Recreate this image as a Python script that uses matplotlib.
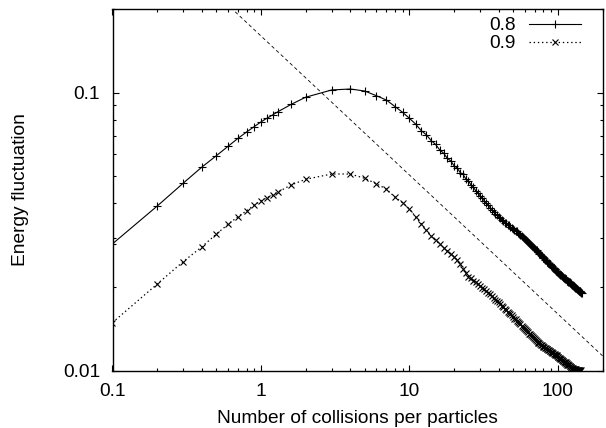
import matplotlib
matplotlib.use("Agg")
import matplotlib.pyplot as plt
from matplotlib.ticker import LogLocator, FixedLocator, FixedFormatter, NullFormatter

# ---------------- data ----------------
x_head = [0.1, 0.2, 0.3, 0.4, 0.5, 0.6, 0.7, 0.8, 0.9, 1.0,
          1.1, 1.2, 1.3, 1.6, 2, 3, 4, 5, 6, 7, 8, 9, 10]

y08_head = [0.0286, 0.0391, 0.0473, 0.0540, 0.0593, 0.0641, 0.0685, 0.0722, 0.0755, 0.0785,
            0.0810, 0.0832, 0.0854, 0.0908, 0.0963, 0.1023, 0.1031, 0.1014, 0.0975, 0.0941,
            0.0891, 0.0850, 0.0809]

y09_head = [0.0149, 0.0205, 0.0247, 0.0279, 0.0310, 0.0336, 0.0358, 0.0376, 0.0394, 0.0409,
            0.0419, 0.0429, 0.0439, 0.0466, 0.0488, 0.0510, 0.0510, 0.0492, 0.0470, 0.0450,
            0.0421, 0.0402, 0.0382]

x08_tail = list(range(11, 146))
y08_tail = [
    0.0772, 0.0731, 0.0706, 0.0673, 0.0652, 0.0623, 0.0606, 0.0581, 0.0568, 0.0546,  # 11-20
    0.0536, 0.0516, 0.0508, 0.0490, 0.0481, 0.0466, 0.0457, 0.0444, 0.0436, 0.0425,  # 21-30
    0.0417, 0.0408, 0.0401, 0.0393, 0.0386, 0.0379, 0.0373, 0.0366, 0.0362, 0.0357,  # 31-40
    0.0353, 0.0348, 0.0346, 0.0341, 0.0339, 0.0335, 0.0333, 0.0329, 0.0327, 0.0324,  # 41-50
    0.0322, 0.0319, 0.0317, 0.0313, 0.0311, 0.0308, 0.0306, 0.0302, 0.0301, 0.0297,  # 51-60
    0.0296, 0.0292, 0.0291, 0.0287, 0.0286, 0.0283, 0.0281, 0.0279, 0.0276, 0.0275,  # 61-70
    0.0271, 0.0271, 0.0267, 0.0267, 0.0263, 0.0263, 0.0260, 0.0259, 0.0257, 0.0254,  # 71-80
    0.0254, 0.0251, 0.0251, 0.0248, 0.0247, 0.0244, 0.0244, 0.0241, 0.0241, 0.0239,  # 81-90
    0.0238, 0.0237, 0.0235, 0.0234, 0.0232, 0.0232, 0.0229, 0.0229, 0.0227, 0.0226,  # 91-100
    0.0225, 0.0223, 0.0223, 0.0221, 0.0221, 0.0219, 0.0219, 0.0217, 0.0217, 0.0216,  # 101-110
    0.0215, 0.0214, 0.0213, 0.0213, 0.0211, 0.0211, 0.0210, 0.0209, 0.0208, 0.0208,  # 111-120
    0.0207, 0.0206, 0.0205, 0.0204, 0.0204, 0.0203, 0.0202, 0.0201, 0.0200, 0.0200,  # 121-130
    0.0199, 0.0198, 0.0198, 0.0197, 0.0196, 0.0195, 0.0195, 0.0194, 0.0194, 0.0193,  # 131-140
    0.0193, 0.0192, 0.0192, 0.0191, 0.0190,                                          # 141-145
]

x09_tail = list(range(11, 144))
y09_tail = [
    0.0358, 0.0338, 0.0320, 0.0305, 0.0294, 0.0286, 0.0277, 0.0270, 0.0263, 0.0257,  # 11-20
    0.0250, 0.0242, 0.0233, 0.0225, 0.0218, 0.0215, 0.0211, 0.0208, 0.0205, 0.0202,  # 21-30
    0.0199, 0.0196, 0.0193, 0.0190, 0.0188, 0.0185, 0.0183, 0.0180, 0.0178, 0.0176,  # 31-40
    0.0174, 0.0171, 0.0169, 0.0167, 0.0165, 0.0163, 0.0161, 0.0160, 0.0158, 0.0156,  # 41-50
    0.0154, 0.0153, 0.0151, 0.0150, 0.0148, 0.0147, 0.0145, 0.0144, 0.0143, 0.0141,  # 51-60
    0.0140, 0.0139, 0.0138, 0.0136, 0.0135, 0.0134, 0.0133, 0.0132, 0.0131, 0.0130,  # 61-70
    0.0129, 0.0128, 0.0127, 0.0126, 0.0126, 0.0125, 0.0124, 0.0124, 0.0123, 0.0122,  # 71-80
    0.0122, 0.0121, 0.0121, 0.0120, 0.0120, 0.0119, 0.0119, 0.0118, 0.0118, 0.0117,  # 81-90
    0.0117, 0.0116, 0.0116, 0.0115, 0.0115, 0.0114, 0.0114, 0.01132, 0.01136, 0.01122,  # 91-100
    0.01124, 0.01110, 0.01115, 0.01101, 0.01106, 0.01094, 0.01097, 0.01083, 0.01088, 0.01077,  # 101-110
    0.01079, 0.01068, 0.01071, 0.01060, 0.01063, 0.01052, 0.01055, 0.01045, 0.01047, 0.01038,  # 111-120
    0.01040, 0.01031, 0.01033, 0.01024, 0.01026, 0.01018, 0.01021, 0.01013, 0.01017, 0.01010,  # 121-130
    0.01014, 0.01007, 0.01011, 0.01005, 0.01009, 0.01003, 0.01007, 0.01002, 0.01005, 0.01001,  # 131-140
    0.01004, 0.01000, 0.01003,                                                              # 141-143
]

labels = ["0.8", "0.9"]
ref_coef = 0.16      # dashed guide line  y = ref_coef * x**ref_exp
ref_exp = -0.5

x_ticks = [0.1, 1, 10, 100]
x_ticklabels = ["0.1", "1", "10", "100"]
y_ticks = [0.01, 0.1]
y_ticklabels = ["0.01", "0.1"]
x_range = (0.1, 200)
y_range = (0.01, 0.2)

x08 = x_head + x08_tail
y08 = y08_head + y08_tail
x09 = x_head + x09_tail
y09 = y09_head + y09_tail

# ---------------- figure ----------------
plt.rcParams['font.family'] = ['Liberation Sans', 'DejaVu Sans']
plt.rcParams['lines.scale_dashes'] = False
FS = 13.8

W, H = 606, 428
fig = plt.figure(figsize=(W / 100, H / 100), dpi=100)
L, R, T, B = 112.5, 602.5, 9, 370.7
ax = fig.add_axes([L / W, 1 - B / H, (R - L) / W, (B - T) / H])

ax.set_xscale('log')
ax.set_yscale('log')

ax.plot(x08, y08, color='black', lw=0.8, ls='-', marker='+', ms=5.5, mew=0.8,
        label=labels[0])
ax.plot(x09, y09, color='black', lw=0.9, ls=(0, (1.0, 2.0)), marker='x', ms=4.5, mew=0.8,
        label=labels[1])

gx = [x_range[0], x_range[1]]
gy = [ref_coef * v ** ref_exp for v in gx]
ax.plot(gx, gy, color='black', lw=0.6, ls=(0, (2.5, 2.0)))

ax.set_xlim(*x_range)
ax.set_ylim(*y_range)

ax.xaxis.set_major_locator(FixedLocator(x_ticks))
ax.xaxis.set_major_formatter(FixedFormatter(x_ticklabels))
ax.yaxis.set_major_locator(FixedLocator(y_ticks))
ax.yaxis.set_major_formatter(FixedFormatter(y_ticklabels))
ax.xaxis.set_minor_locator(LogLocator(base=10, subs=range(2, 10)))
ax.yaxis.set_minor_locator(LogLocator(base=10, subs=range(2, 10)))
ax.xaxis.set_minor_formatter(NullFormatter())
ax.yaxis.set_minor_formatter(NullFormatter())

ax.tick_params(which='both', direction='in', top=True, right=True, colors='black',
               labelsize=FS)
ax.tick_params(which='major', length=4.3, width=0.8)
ax.tick_params(which='minor', length=2.2, width=0.8)
ax.tick_params(axis='x', which='major', pad=9)
ax.tick_params(axis='y', which='major', pad=9)
for s in ax.spines.values():
    s.set_linewidth(1.0)
    s.set_color('black')

ax.set_xlabel("Number of collisions per particles", fontsize=FS)
ax.set_ylabel("Energy fluctuation", fontsize=FS)
ax.xaxis.set_label_coords(0.5, -0.110)
ax.yaxis.set_label_coords(-0.170, 0.5)

leg = ax.legend(loc='upper right', bbox_to_anchor=(581 / W, 1 - 17 / H),
                bbox_transform=fig.transFigure, frameon=False, markerfirst=False,
                numpoints=1, handlelength=2.7, handletextpad=0.7,
                labelspacing=0.02, borderpad=0, borderaxespad=0, fontsize=FS)
for t in leg.get_texts():
    t.set_ha('right')

fig.savefig("out.png", dpi=100)
